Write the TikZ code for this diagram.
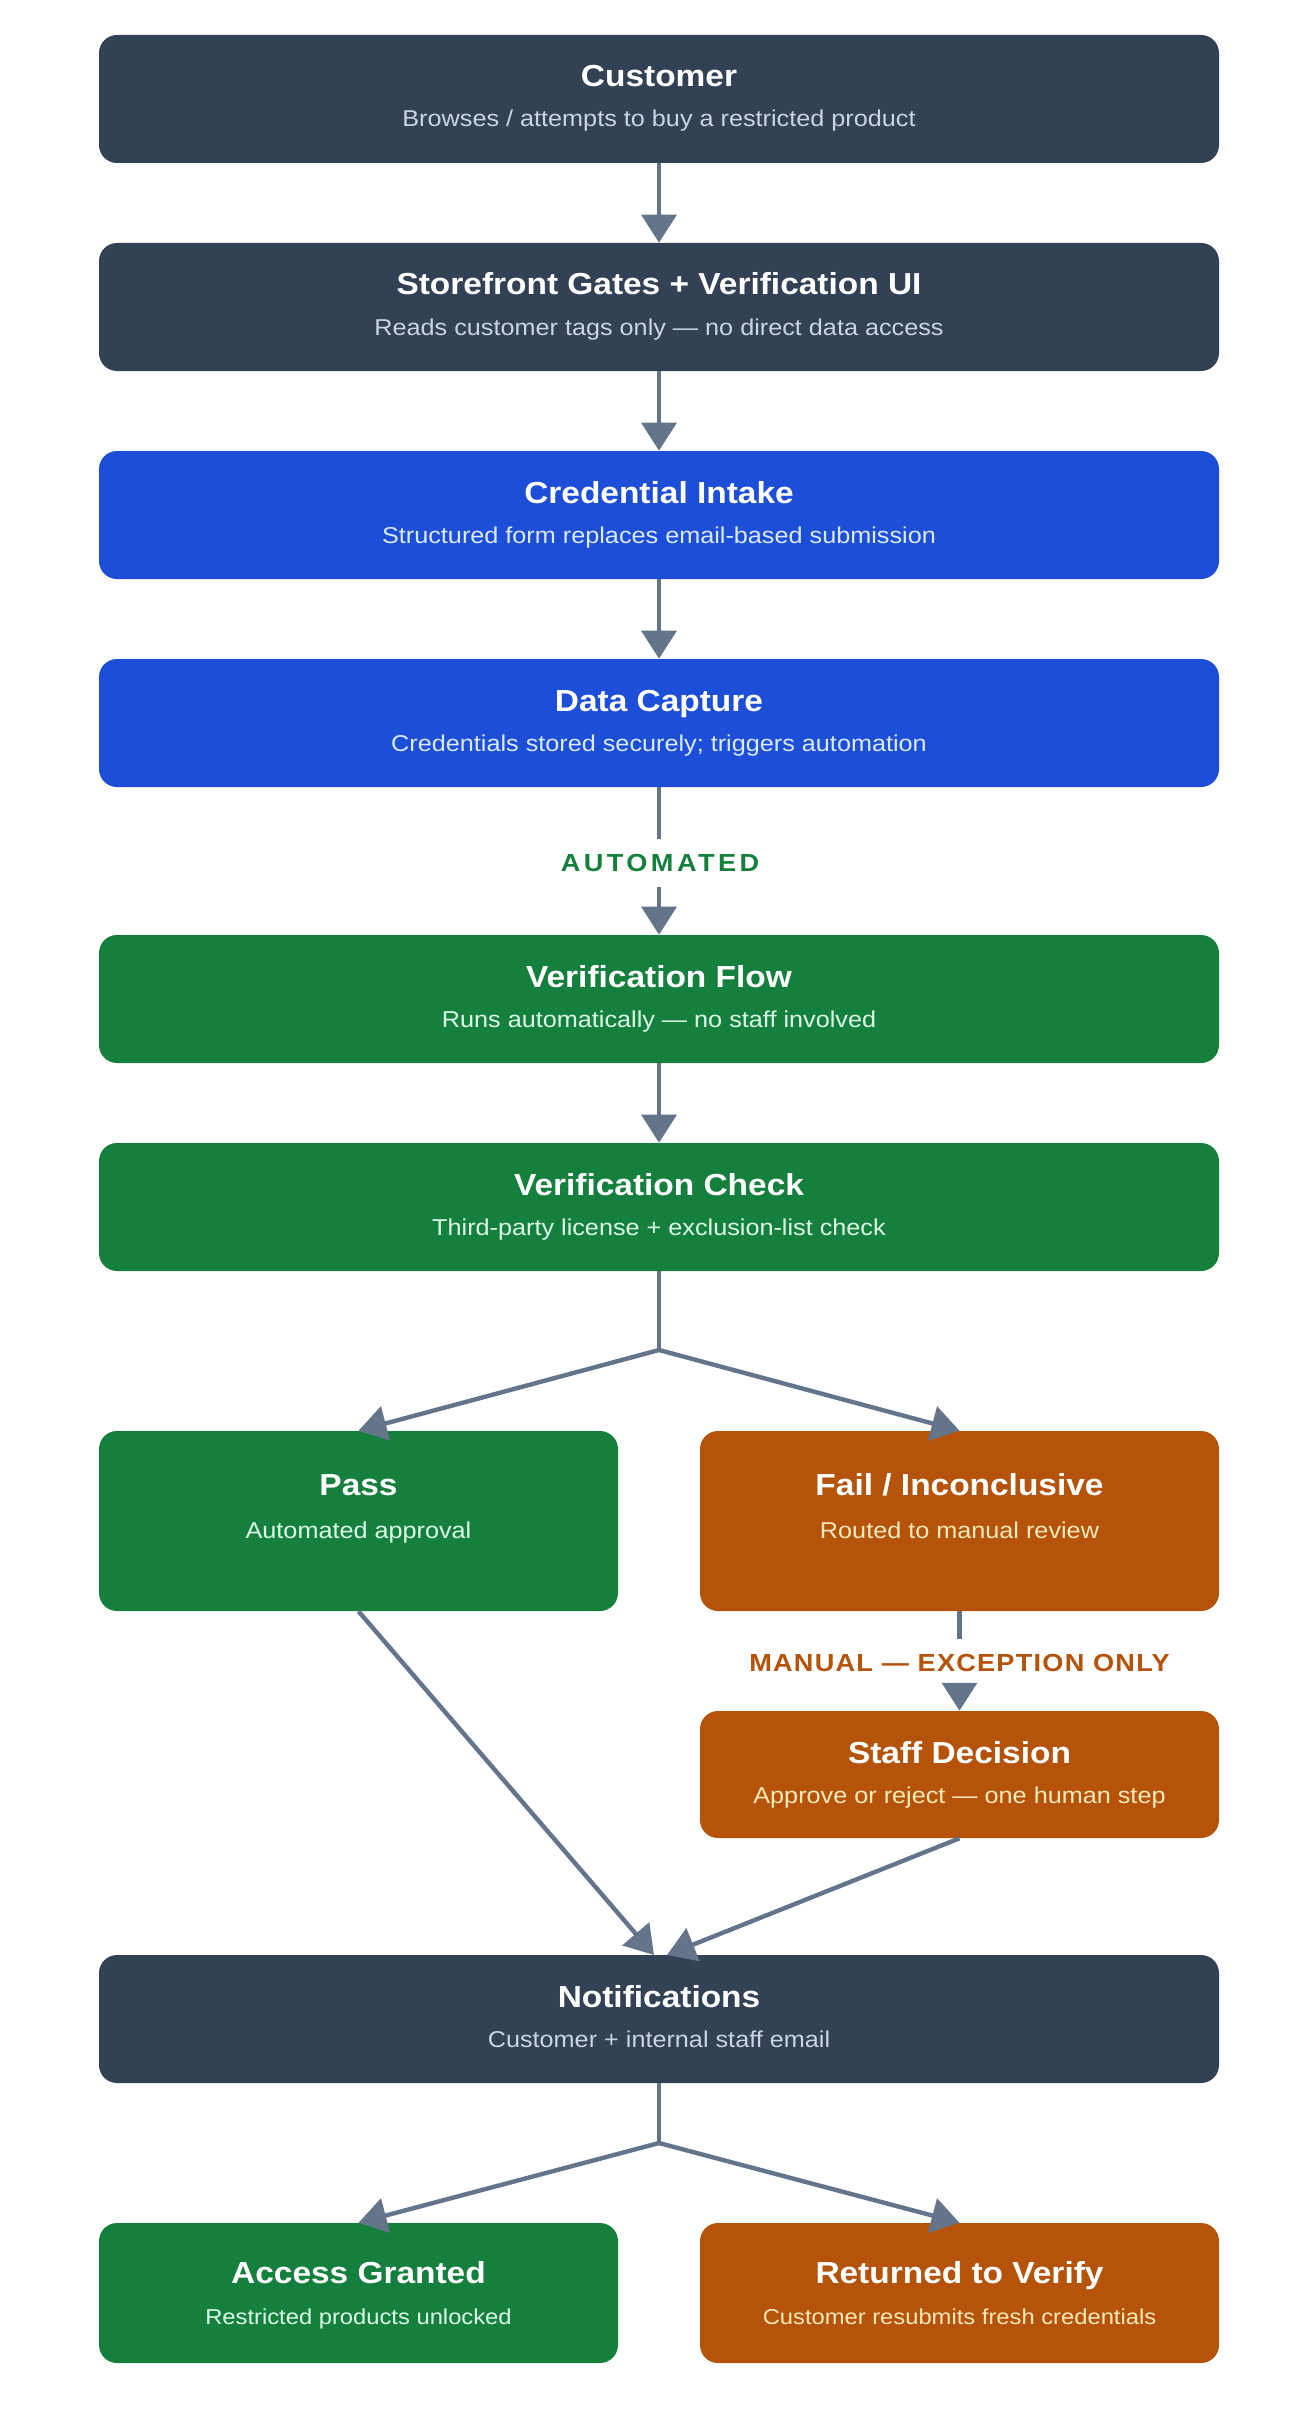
\documentclass[tikz,border=0pt]{standalone}
\usepackage{fontspec}
\setmainfont{Liberation Sans}[FakeStretch=1.1]
\newfontfamily\autofont{Liberation Sans}[FakeStretch=1.1,LetterSpace=14]
\newfontfamily\manfont{Liberation Sans}[FakeStretch=1.1,LetterSpace=5]
\usetikzlibrary{arrows.meta,calc}
\definecolor{cdark}{HTML}{334155}
\definecolor{cblue}{HTML}{1D4ED8}
\definecolor{cgreen}{HTML}{15803D}
\definecolor{corange}{HTML}{B45309}
\definecolor{carrow}{HTML}{64748B}
\definecolor{sdark}{HTML}{CBD5E1}
\definecolor{sblue}{HTML}{DBEAFE}
\definecolor{sgreen}{HTML}{DCFCE7}
\definecolor{sorange}{HTML}{FDEBBB}
\begin{document}
\begin{tikzpicture}[x=0.75pt,y=-0.75pt,
  box/.style={rectangle, rounded corners=13.5pt, draw=none, inner sep=0pt},
  wide/.style={box, minimum width=840pt, minimum height=96pt},
  half/.style={box, minimum width=389.25pt},
  ttl/.style={anchor=base, inner sep=0pt, text=white, font=\fontsize{22.8pt}{27pt}\selectfont\bfseries},
  sub/.style={anchor=base, inner sep=0pt, font=\fontsize{17.2pt}{20pt}\selectfont},
  subsm/.style={anchor=base, inner sep=0pt, font=\fontsize{16.2pt}{19pt}\selectfont},
  lbl/.style={inner sep=0pt, minimum height=36pt},
  line/.style={draw=carrow, line width=3.3pt},
  arr/.style={line, -{Triangle[length=21pt,width=26pt]}},
]
\fill[white] (0,0) rectangle (1306,2429);
\useasboundingbox (0,0) rectangle (1306,2429);

% boxes
\node[wide, fill=cdark] (cust) at (659,99) {};
\node[wide, fill=cdark] (store) at (659,307) {};
\node[wide, fill=cblue] (cred) at (659,515) {};
\node[wide, fill=cblue] (data) at (659,723) {};
\node[wide, fill=cgreen] (flow) at (659,999) {};
\node[wide, fill=cgreen] (check) at (659,1207) {};
\node[half, fill=cgreen, minimum height=135pt] (pass) at (358.5,1521) {};
\node[half, fill=corange, minimum height=135pt] (fail) at (959.5,1521) {};
\node[half, fill=corange, minimum height=95.25pt] (staff) at (959.5,1774.5) {};
\node[wide, fill=cdark] (notif) at (659,2019) {};
\node[half, fill=cgreen, minimum height=105pt] (acc) at (358.5,2293) {};
\node[half, fill=corange, minimum height=105pt] (ret) at (959.5,2293) {};

% texts
\node[ttl] (cust-t) at (659,87) {Customer};
\node[sub, text=sdark] (cust-s) at (659,127) {Browses / attempts to buy a restricted product};
\node[ttl] (store-t) at (659,295) {Storefront Gates + Verification UI};
\node[sub, text=sdark] (store-s) at (659,335) {Reads customer tags only — no direct data access};
\node[ttl] (cred-t) at (659,503) {Credential Intake};
\node[sub, text=sblue] (cred-s) at (659,543) {Structured form replaces email-based submission};
\node[ttl] (data-t) at (659,711) {Data Capture};
\node[sub, text=sblue] (data-s) at (659,751) {Credentials stored securely; triggers automation};
\node[ttl] (flow-t) at (659,987) {Verification Flow};
\node[sub, text=sgreen] (flow-s) at (659,1027) {Runs automatically — no staff involved};
\node[ttl] (check-t) at (659,1195) {Verification Check};
\node[sub, text=sgreen] (check-s) at (659,1235) {Third-party license + exclusion-list check};
\node[ttl] (pass-t) at (358.5,1495) {Pass};
\node[sub, text=sgreen] (pass-s) at (358.5,1538) {Automated approval};
\node[ttl] (fail-t) at (959.5,1495) {Fail / Inconclusive};
\node[sub, text=sorange] (fail-s) at (959.5,1538) {Routed to manual review};
\node[ttl] (staff-t) at (959.5,1763) {Staff Decision};
\node[sub, text=sorange] (staff-s) at (959.5,1803) {Approve or reject — one human step};
\node[ttl] (notif-t) at (659,2007) {Notifications};
\node[sub, text=sdark] (notif-s) at (659,2047) {Customer + internal staff email};
\node[ttl] (acc-t) at (358.5,2283) {Access Granted};
\node[subsm, text=sgreen] (acc-s) at (358.5,2324) {Restricted products unlocked};
\node[ttl] (ret-t) at (959.5,2283) {Returned to Verify};
\node[subsm, text=sorange] (ret-s) at (959.5,2324) {Customer resubmits fresh credentials};

% labels
\node[lbl, text=cgreen, font={\autofont\fontsize{18.5pt}{22pt}\selectfont\bfseries}] (autolab) at (660,863) {AUTOMATED};
\node[lbl, text=corange, font={\manfont\fontsize{18.5pt}{22pt}\selectfont\bfseries}] (manlab) at (959.5,1663) {MANUAL — EXCEPTION ONLY};

% junctions
\coordinate (j1) at (659,1350);
\coordinate (j2) at (659,2143);
\coordinate (nin-a) at (654,1955);
\coordinate (nin-b) at (667,1955);

% connectors
\draw[arr] (cust.south) -- (store.north);
\draw[arr] (store.south) -- (cred.north);
\draw[arr] (cred.south) -- (data.north);
\draw[line] (data.south) -- (data.south |- autolab.north);
\draw[arr] (flow.north |- autolab.south) -- (flow.north);
\draw[arr] (flow.south) -- (check.north);
\draw[line] (check.south) -- (j1);
\draw[arr] (j1) -- (pass.north);
\draw[arr] (j1) -- (fail.north);
\draw[line] (fail.south) -- (fail.south |- manlab.north);
\draw[arr] (staff.north |- manlab.south) -- (staff.north);
\draw[arr] (pass.south) -- (nin-a);
\draw[arr] (staff.south) -- (nin-b);
\draw[line] (notif.south) -- (j2);
\draw[arr] (j2) -- (acc.north);
\draw[arr] (j2) -- (ret.north);
\end{tikzpicture}
\end{document}
